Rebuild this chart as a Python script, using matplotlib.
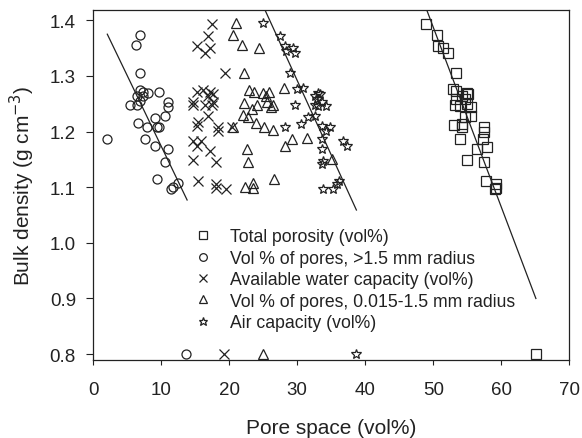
import matplotlib
matplotlib.use('Agg')
import matplotlib.pyplot as plt
from matplotlib.lines import Line2D

plt.rcParams['font.family'] = ['Liberation Sans', 'DejaVu Sans']

# Total porosity (squares)
tp_x = [48.9, 50.5, 50.7, 51.5, 52.1, 53.4, 52.9, 53.3, 54.9, 55.1, 54.2, 54.7, 53.3,
        53.2, 54.0, 54.9, 55.5, 55.6, 54.7, 54.3, 53.0, 54.3, 53.9,
        57.5, 57.5, 57.3, 57.9, 56.5, 57.5, 55.0, 57.8, 59.2, 59.3, 59.1]
tp_y = [1.393, 1.374, 1.354, 1.351, 1.342, 1.306, 1.276, 1.273, 1.270, 1.267, 1.264, 1.258, 1.258,
        1.248, 1.246, 1.249, 1.244, 1.228, 1.226, 1.213, 1.212, 1.208, 1.186,
        1.208, 1.199, 1.186, 1.172, 1.168, 1.145, 1.149, 1.111, 1.106, 1.098, 1.097]

# pores > 1.5 mm radius (circles)
big_x = [6.9, 6.3, 6.9, 6.9, 7.3, 8.0, 6.4, 7.3, 6.9, 5.4, 6.4, 9.7,
         11.0, 11.0, 10.5, 9.1, 6.6, 7.9, 9.3, 9.7, 2.0, 7.6, 9.1, 11.0,
         10.6, 9.3, 11.7, 11.4, 12.5]
big_y = [1.374, 1.356, 1.306, 1.275, 1.272, 1.269, 1.264, 1.264, 1.255, 1.248, 1.248, 1.272,
         1.254, 1.244, 1.228, 1.225, 1.215, 1.208, 1.209, 1.208, 1.186, 1.186, 1.174, 1.168,
         1.145, 1.115, 1.100, 1.097, 1.107]

# available water capacity (crosses)
awc_x = [17.4, 16.8, 15.2, 17.2, 16.4, 19.4, 15.2, 16.2, 17.2, 17.6, 16.9,
         14.7, 14.6, 16.4, 17.4, 17.6, 16.9, 15.4, 15.2, 18.4, 18.4, 20.4,
         14.6, 15.9, 15.2, 17.2, 14.7, 18.1, 15.4, 18.0, 18.1, 19.5]
awc_y = [1.393, 1.372, 1.353, 1.350, 1.342, 1.305, 1.272, 1.275, 1.272, 1.267, 1.264,
         1.253, 1.248, 1.248, 1.248, 1.253, 1.228, 1.217, 1.210, 1.208, 1.201, 1.208,
         1.183, 1.183, 1.174, 1.165, 1.149, 1.145, 1.111, 1.106, 1.098, 1.097]

# pores 0.015-1.5 mm radius (triangles)
mid_x = [21.0, 20.5, 21.8, 24.4, 22.2, 28.0, 22.9, 23.6, 25.0, 25.9, 25.4,
         22.2, 24.1, 25.6, 26.5, 26.2, 22.0, 22.8, 23.4, 23.9, 25.1, 26.5, 20.5,
         28.2, 29.2, 31.4, 22.6, 22.8, 26.6, 22.3, 23.5, 23.5, 35.1]
mid_y = [1.395, 1.374, 1.356, 1.351, 1.306, 1.278, 1.275, 1.272, 1.269, 1.272, 1.264,
         1.251, 1.248, 1.253, 1.248, 1.245, 1.230, 1.226, 1.240, 1.215, 1.209, 1.203, 1.209,
         1.174, 1.186, 1.189, 1.168, 1.146, 1.115, 1.100, 1.107, 1.098, 1.151]

# air capacity (stars)
air_x = [25.0, 27.4, 28.2, 29.4, 29.7, 28.4, 29.0, 29.9, 30.9,
         33.1, 33.3, 32.6, 32.9, 33.6, 34.3, 33.1, 32.6, 29.7,
         32.6, 31.6, 30.6, 28.2, 33.6, 34.8, 34.3,
         33.6, 33.6, 33.8, 33.6, 36.8, 37.3, 33.8, 35.2, 35.8, 36.2]
air_y = [1.395, 1.372, 1.354, 1.350, 1.342, 1.344, 1.305, 1.276, 1.278,
         1.270, 1.267, 1.264, 1.258, 1.253, 1.246, 1.246, 1.248, 1.248,
         1.228, 1.226, 1.213, 1.208, 1.210, 1.208, 1.201,
         1.186, 1.168, 1.147, 1.142, 1.183, 1.174, 1.097, 1.097, 1.106, 1.111]

# points drawn on the 0.8 line (same order as the legend)
low_x = [65.1, 13.6, 19.2, 24.9, 38.6]
low_y = [0.80, 0.80, 0.80, 0.80, 0.80]

# fitted lines (x0, x1), (y0, y1)
fit_big = ([2.06, 13.8], [1.375, 1.077])
fit_air = ([25.2, 38.7], [1.42, 1.059])
fit_tp = ([49.0, 65.1], [1.42, 0.90])

labels = ['Total porosity (vol%)', 'Vol % of pores, >1.5 mm radius',
          'Available water capacity (vol%)', 'Vol % of pores, 0.015-1.5 mm radius',
          'Air capacity (vol%)']
markers = ['s', 'o', 'x', '^', '*']
sizes = [6.5, 6.5, 6.5, 7.0, 7.5]
ink = '#222222'

fig = plt.figure(figsize=(5.82, 4.39), dpi=100)
ax = fig.add_axes([0.1603, 0.1784, 0.978 - 0.1603, 0.9756 - 0.1784])

series = [(tp_x, tp_y), (big_x, big_y), (awc_x, awc_y), (mid_x, mid_y), (air_x, air_y)]
for (xs, ys), m, s in zip(series, markers, sizes):
    ax.plot(xs, ys, linestyle='none', marker=m, ms=s, mfc='none', mec=ink, mew=0.9)

for xv, yv, m, s in zip(low_x, low_y, markers, sizes):
    ax.plot([xv], [yv], linestyle='none', marker=m, ms=s, mfc='none', mec=ink, mew=0.9,
            clip_on=False)

for fx, fy in [fit_big, fit_air, fit_tp]:
    ax.plot(fx, fy, color=ink, lw=0.9)

ax.set_xlim(0, 70)
ax.set_ylim(0.79, 1.419)
ax.set_xticks(range(0, 71, 10))
ax.set_yticks([0.8, 0.9, 1.0, 1.1, 1.2, 1.3, 1.4])
ax.set_yticklabels(['0.8', '0.9', '1.0', '1.1', '1.2', '1.3', '1.4'])
ax.tick_params(labelsize=13.5, width=0.8, colors=ink)
ax.tick_params(axis='x', length=3.6, pad=12)
ax.tick_params(axis='y', length=4.8, pad=7.7)
for sp in ax.spines.values():
    sp.set_linewidth(0.9)
    sp.set_color(ink)

ax.set_xlabel('Pore space (vol%)', fontsize=15, labelpad=14, color=ink)
ax.set_ylabel('Bulk density (g cm$^{-3}$)', fontsize=15, labelpad=9, color=ink)

handles = [Line2D([], [], linestyle='none', marker=m, ms=s * 0.85, mfc='none', mec=ink, mew=0.9)
           for m, s in zip(markers, sizes)]
ax.legend(handles, labels, loc='upper left', bbox_to_anchor=(0.212, 0.375), frameon=False,
          fontsize=12.7, handletextpad=1.03, labelspacing=0.25, handlelength=1.0,
          borderaxespad=0, borderpad=0, labelcolor=ink)

fig.savefig('out.png', dpi=100)
